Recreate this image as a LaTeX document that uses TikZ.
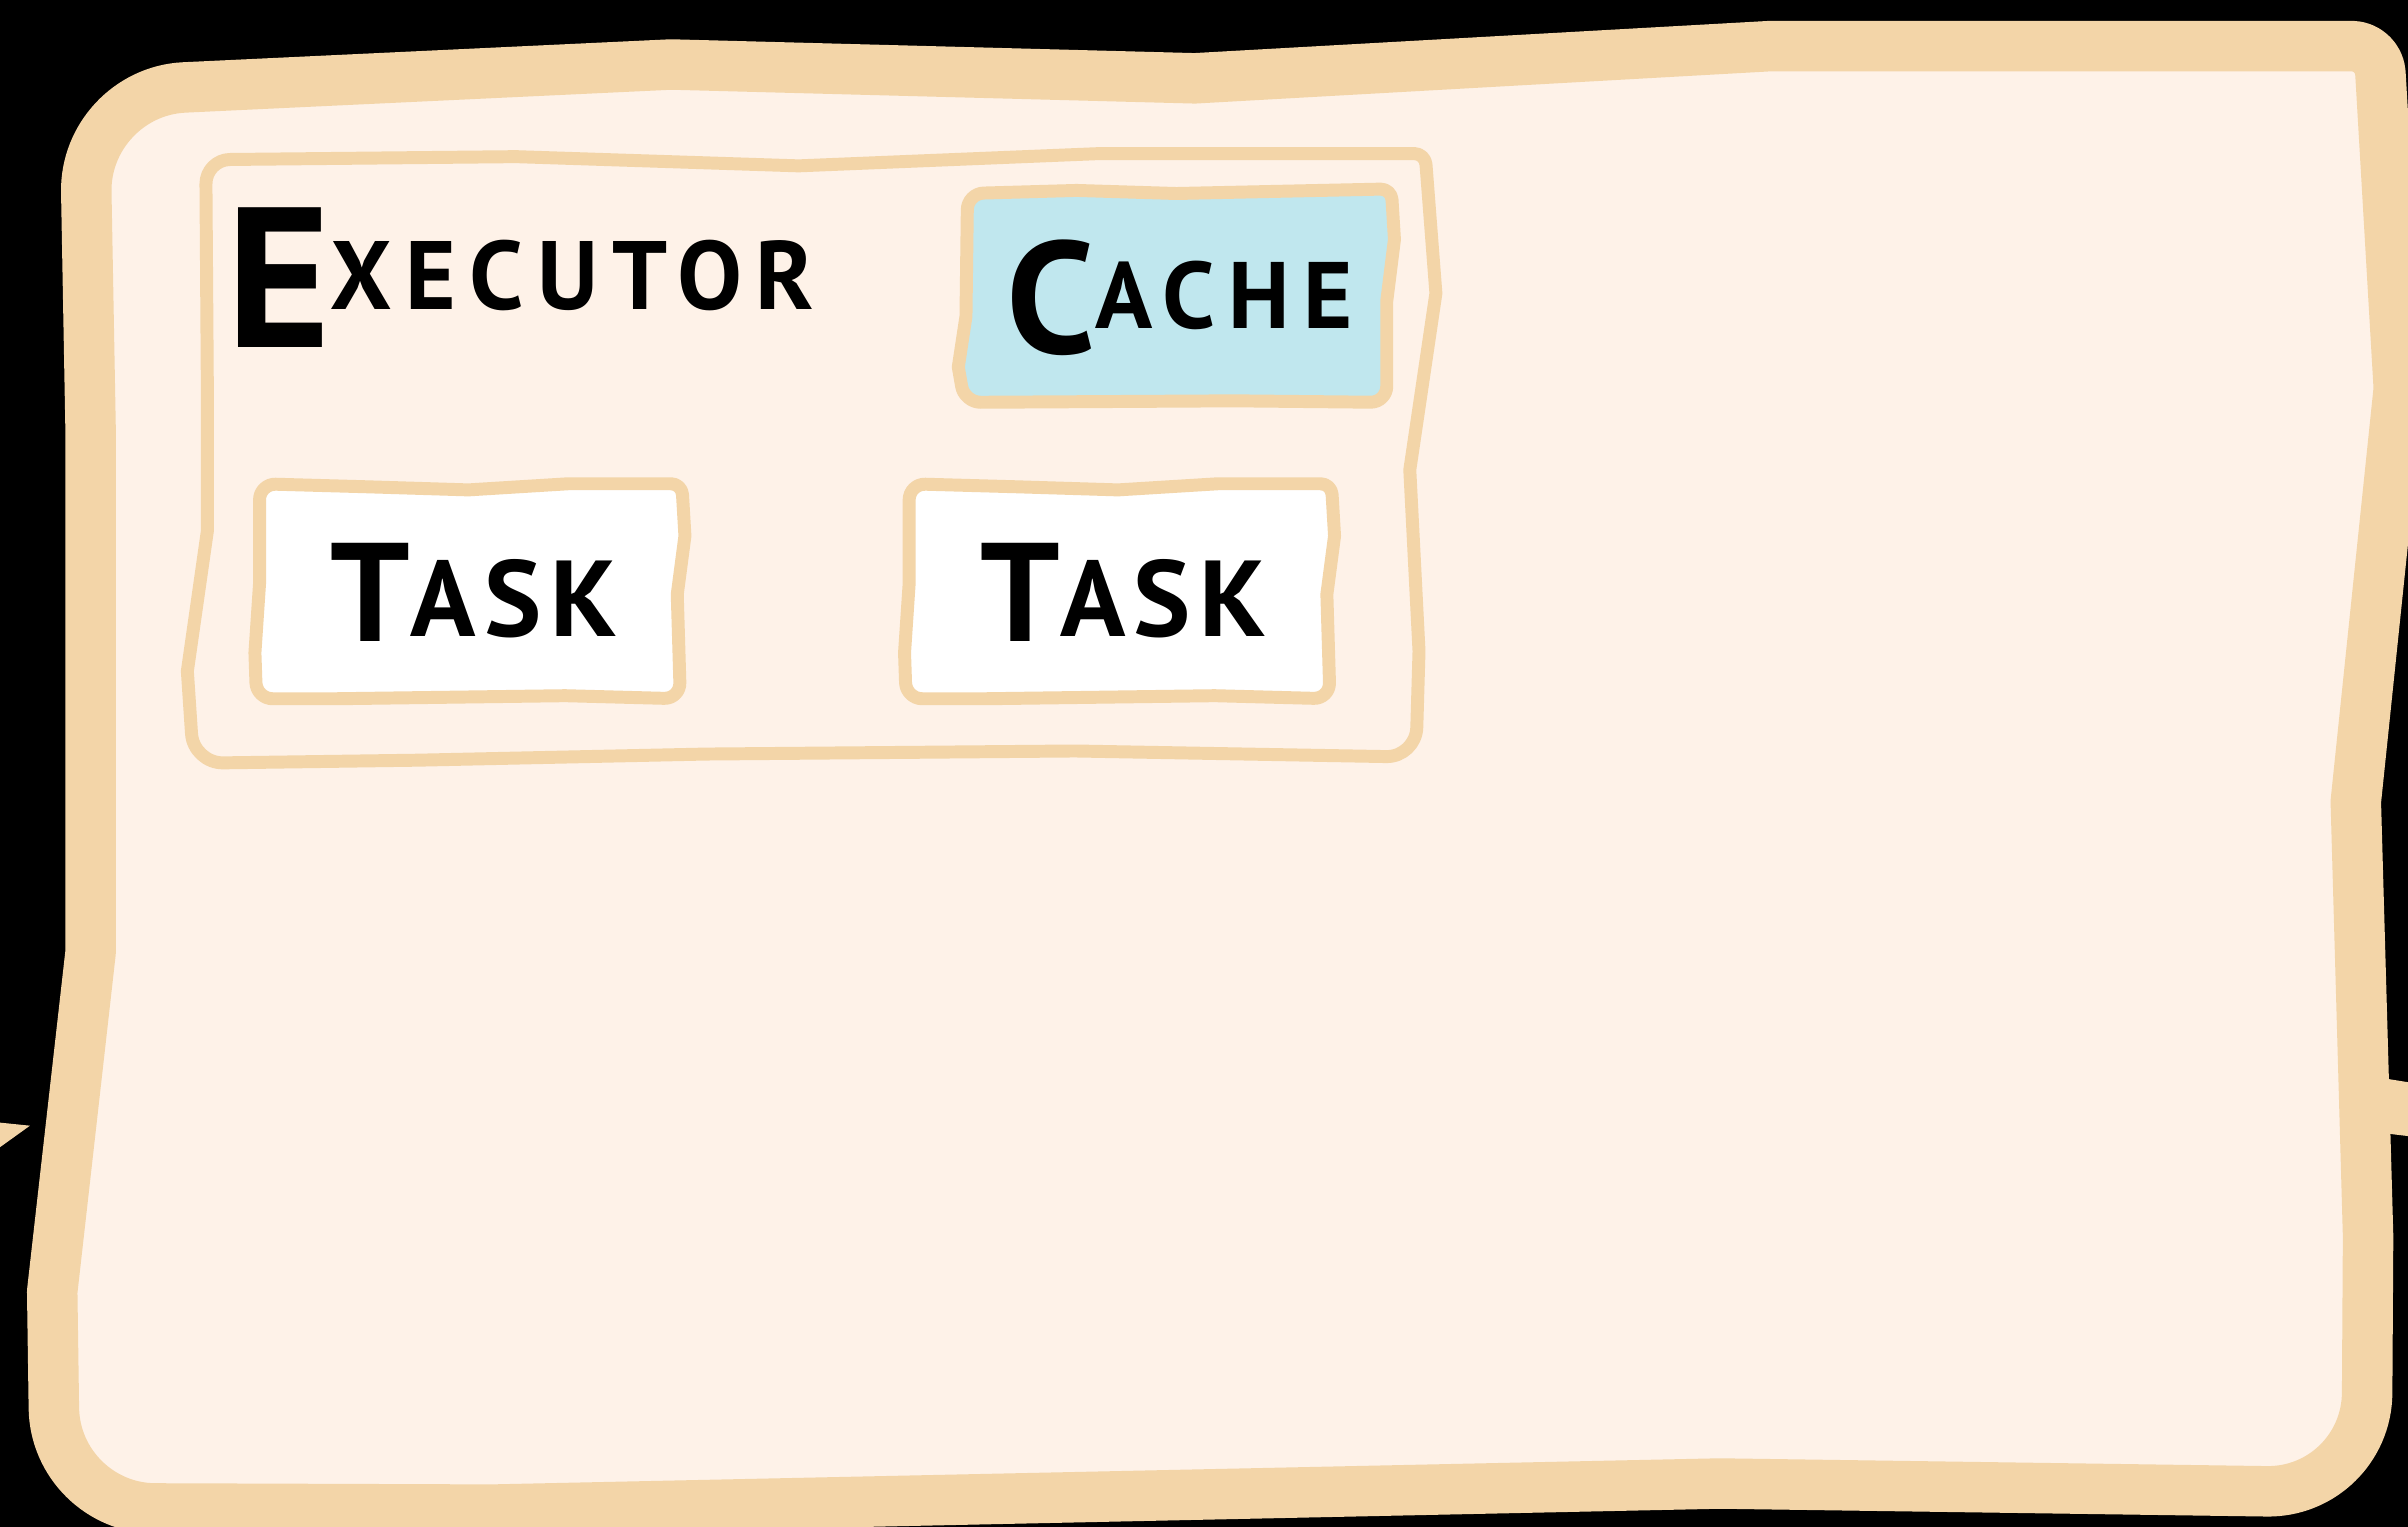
\documentclass[tikz,border=0pt]{standalone}
\usepackage{fontspec}
\setmainfont{PT Sans}
\definecolor{sand}{RGB}{243,213,168}
\definecolor{paper}{RGB}{254,242,232}
\definecolor{ice}{RGB}{192,231,238}
% big first letter, smaller raised and spaced rest
\newcommand{\hw}[6]{{\fontsize{#1}{#1}\selectfont #5}\raisebox{#3}{\fontsize{#2}{#2}\selectfont\addfontfeatures{LetterSpace=#4}#6}}
\begin{document}
\begin{tikzpicture}[x=0.2mm,y=-0.2mm,line join=round,
  frame/.style={draw=sand,line width=18.7pt,fill=paper},
  box/.style={draw=sand,line width=4.8pt},
  word/.style={anchor=base west,inner sep=0pt,font=\bfseries}]
\fill[black] (0,0) rectangle (1568,994);
\useasboundingbox (0,0) rectangle (1568,994);
\clip (0,0) rectangle (1568,994);
% ends of links leaving the frame
\fill[sand] (0,731) -- (19.5,733) -- (0,747) -- cycle;
\fill[sand] (1545,701) -- (1570,705) -- (1570,740) -- (1545,737) -- cycle;
% outer frame
\draw[frame] (59,450) -- (59,280) [rounded corners=37pt] -- (55,60) [sharp corners] -- (437,42) -- (778,51)
  -- (1153,30) [rounded corners=10pt] -- (1549,30) [sharp corners] -- (1562,253) -- (1534,522)
  -- (1542,805) [rounded corners=37pt] -- (1541,972) [sharp corners] -- (1120,966) -- (320,983)
  [rounded corners=37pt] -- (36,982) [sharp corners] -- (34,841) -- (59,620) -- cycle;
% executor
\draw[box,fill=paper] (135,250) [rounded corners=9pt] -- (134,104) [sharp corners] -- (336,102) -- (520,108)
  -- (716,100) [rounded corners=4pt] -- (928,100) [sharp corners] -- (935,191) -- (918,306) -- (924,424)
  [rounded corners=11pt] -- (922,493) [sharp corners] -- (700,489) -- (460,491) -- (272,495)
  [rounded corners=11pt] -- (126,497) [sharp corners] -- (122,437) -- (135,346) -- cycle;
\node[word] (executor) at (147,226) {\hw{74pt}{36pt}{14pt}{14}{E}{XECUTOR}};
% cache
\draw[box,fill=ice] (629,206) [rounded corners=6pt] -- (630,126) [sharp corners] -- (701,124) -- (766,126)
  [rounded corners=4pt] -- (906,123) [sharp corners] -- (908,156) -- (903,196) [rounded corners=6pt]
  -- (903,262) [sharp corners] -- (804,261) [rounded corners=6pt] -- (628,262) [sharp corners]
  -- (624,239) -- cycle;
\node[word] (cache) at (655,230) {\hw{59pt}{35pt}{9pt}{14}{C}{ACHE}};
% tasks
\foreach \dx [count=\i] in {0,423}{
  \draw[box,fill=white,shift={(\dx,0)}] (169,380) [rounded corners=6pt] -- (169,315) [sharp corners]
    -- (240,317) -- (305,319) -- (370,315) [rounded corners=4pt] -- (444,315) [sharp corners] -- (446,349)
    -- (441,387) [rounded corners=6pt] -- (443,455) [sharp corners] -- (368,453) -- (218,455)
    [rounded corners=6pt] -- (167,455) [sharp corners] -- (166,425) -- cycle;
  \node[word] (task\i) at (215+\dx,418) {\hw{52pt}{40pt}{2pt}{8}{T}{ASK}};
}
\end{tikzpicture}
\end{document}
